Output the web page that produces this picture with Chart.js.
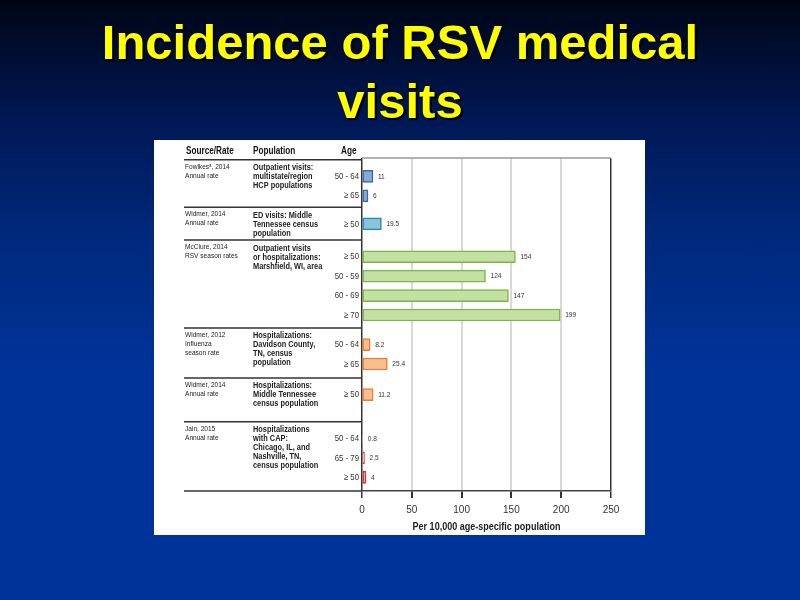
<!DOCTYPE html>
<html>
<head>
<meta charset="utf-8">
<script src="https://cdn.jsdelivr.net/npm/chart.js@4.4.1/dist/chart.umd.min.js"></script>
<style>
  html, body { margin: 0; padding: 0; }
  body {
    width: 800px; height: 600px; overflow: hidden; position: relative;
    background: linear-gradient(to bottom, #000515 0%, #001650 18%, #00287a 38%, #003399 62%, #003399 100%);
  }
  #titulo {
    position: absolute; left: 0; top: 13px; width: 800px;
    text-align: center; color: #ffff00;
    font-family: "Liberation Sans", Arial, sans-serif; font-weight: bold;
    font-size: 49px; line-height: 59px;
    text-shadow: 2px 2px 1px #000;
  }
  #painel {
    position: absolute; left: 154px; top: 140px; width: 491px; height: 395px;
    background: #fff;
  }
</style>
</head>
<body>
<div id="titulo">Incidence of RSV medical<br>visits</div>
<div id="painel"><canvas id="grafico" width="491" height="395"></canvas></div>
<script>
// dados
const fontes = [
  ['Fowlkesᵃ, 2014', 'Annual rate'],
  ['Widmer, 2014', 'Annual rate'],
  ['McClure, 2014', 'RSV season rates'],
  ['Widmer, 2012', 'Influenza', 'season rate'],
  ['Widmer, 2014', 'Annual rate'],
  ['Jain, 2015', 'Annual rate']
];
const populacoes = [
  ['Outpatient visits:', 'multistate/region', 'HCP populations'],
  ['ED visits: Middle', 'Tennessee census', 'population'],
  ['Outpatient visits', 'or hospitalizations:', 'Marshfield, WI, area'],
  ['Hospitalizations:', 'Davidson County,', 'TN, census', 'population'],
  ['Hospitalizations:', 'Middle Tennessee', 'census population'],
  ['Hospitalizations', 'with CAP:', 'Chicago, IL, and', 'Nashville, TN,', 'census population']
];
const idades = [
  ['50 - 64', '≥ 65'],
  ['≥ 50'],
  ['≥ 50', '50 - 59', '60 - 69', '≥ 70'],
  ['50 - 64', '≥ 65'],
  ['≥ 50'],
  ['50 - 64', '65 - 79', '≥ 50']
];
const incidencia = [
  [11, 6],
  [19.5],
  [154, 124, 147, 199],
  [8.2, 25.4],
  [11.2],
  [0.8, 2.5, 4]
];
const ticksX = [0, 50, 100, 150, 200, 250];
const tituloX = 'Per 10,000 age-specific population';

// cores de cada estudo
const coresFundo = ['#8fa8d2', '#8cc3da', '#c5e0a4', '#f9bf90', '#f9bf90', '#f6bcb4'];
const coresBorda = ['#2e6ea6', '#1a8bb6', '#7ab648', '#ed7d31', '#ed7d31', '#e0302a'];

// layout vertical (em "fatias" do eixo y)
const alturaGrupo = [9.4, 6.5, 17.4, 9.9, 8.7, 13.7];
const folgaTopo = 0.35;
const primeiraLinha = 3.3;
const passoLinha = 3.85;

const FONTE = '"Liberation Sans", Arial, sans-serif';
const APERTO = 0.82; // a figura original é estreita

// calcula onde cada grupo começa
const inicioGrupo = [];
let acc = folgaTopo;
alturaGrupo.forEach(h => { inicioGrupo.push(acc); acc += h; });
const totalFatias = acc;

const datasets = incidencia.map((valores, g) => ({
  label: fontes[g][0],
  data: valores.map((v, i) => ({ x: v, y: inicioGrupo[g] + primeiraLinha + i * passoLinha })),
  backgroundColor: coresFundo[g],
  borderColor: coresBorda[g],
  borderWidth: 1.5,
  borderSkipped: false,
  barThickness: 12,
  grouped: false
}));

// texto estreito: escala só na horizontal
function textoEstreito(ctx, t, x, y) {
  ctx.save();
  ctx.translate(x, y);
  ctx.scale(APERTO, 1);
  ctx.fillText(t, 0, 0);
  ctx.restore();
}

const tabelaPlugin = {
  id: 'tabela',
  afterDraw(chart) {
    const ctx = chart.ctx;
    const area = chart.chartArea;
    const y = chart.scales.y;
    const x = chart.scales.x;
    const xEsq = 30;

    ctx.save();
    ctx.textBaseline = 'middle';
    ctx.textAlign = 'left';

    // cabeçalho
    ctx.fillStyle = '#111';
    ctx.font = 'bold 10px ' + FONTE;
    textoEstreito(ctx, 'Source/Rate', 32, 11);
    textoEstreito(ctx, 'Population', 99, 11);
    textoEstreito(ctx, 'Age', 187, 11);

    // linha do topo da área
    ctx.strokeStyle = '#999';
    ctx.lineWidth = 1.5;
    ctx.beginPath();
    ctx.moveTo(area.left, area.top);
    ctx.lineTo(area.right, area.top);
    ctx.stroke();

    // separadores
    ctx.strokeStyle = '#333';
    inicioGrupo.forEach(s => {
      const py = y.getPixelForValue(s);
      ctx.beginPath();
      ctx.moveTo(xEsq, py);
      ctx.lineTo(area.left, py);
      ctx.stroke();
    });
    ctx.beginPath();
    ctx.moveTo(xEsq, area.bottom);
    ctx.lineTo(area.left, area.bottom);
    ctx.stroke();

    inicioGrupo.forEach((s, g) => {
      const py = y.getPixelForValue(s);
      ctx.fillStyle = '#222';
      ctx.font = '8px ' + FONTE;
      fontes[g].forEach((t, i) => textoEstreito(ctx, t, 31, py + 7 + i * 9));
      ctx.font = 'bold 9px ' + FONTE;
      populacoes[g].forEach((t, i) => textoEstreito(ctx, t, 99, py + 8 + i * 9));
    });

    // idades e valores
    chart.data.datasets.forEach((ds, g) => {
      ds.data.forEach((d, i) => {
        const py = y.getPixelForValue(d.y);
        ctx.fillStyle = '#333';
        ctx.textAlign = 'right';
        ctx.font = '9.5px ' + FONTE;
        textoEstreito(ctx, idades[g][i], area.left - 3, py);
        ctx.textAlign = 'left';
        ctx.font = '8px ' + FONTE;
        textoEstreito(ctx, String(d.x), x.getPixelForValue(d.x) + 5, py);
      });
    });

    // título do eixo x
    ctx.fillStyle = '#222';
    ctx.textAlign = 'center';
    ctx.font = 'bold 11px ' + FONTE;
    textoEstreito(ctx, tituloX, (area.left + area.right) / 2, 387);
    ctx.restore();
  }
};

new Chart(document.getElementById('grafico'), {
  type: 'bar',
  data: { datasets },
  options: {
    indexAxis: 'y',
    responsive: false,
    animation: false,
    layout: { padding: { left: 208, right: 34, top: 18, bottom: 13 } },
    plugins: { legend: { display: false }, tooltip: { enabled: false } },
    scales: {
      y: { type: 'linear', min: 0, max: totalFatias, reverse: true, offset: false, display: false },
      x: {
        type: 'linear', min: 0, max: 250,
        afterBuildTicks: s => { s.ticks = ticksX.map(v => ({ value: v })); },
        ticks: { color: '#333', font: { family: FONTE, size: 10 }, padding: 6 },
        grid: {
          color: c => (c.tick && (c.tick.value === 0 || c.tick.value === 250)) ? '#333' : '#d9d9d9',
          lineWidth: c => (c.tick && (c.tick.value === 0 || c.tick.value === 250)) ? 1.5 : 2,
          tickColor: '#333',
          tickLength: 7
        },
        border: { color: '#444', width: 1.5 }
      }
    }
  },
  plugins: [tabelaPlugin]
});
</script>
</body>
</html>
